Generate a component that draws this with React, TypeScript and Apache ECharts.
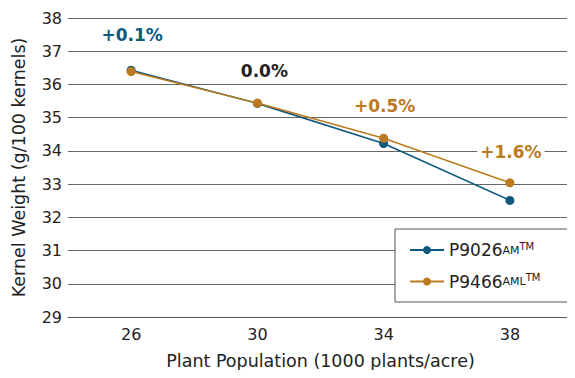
import React, { useEffect, useRef } from "react";
import * as echarts from "echarts";

const categories = ["26", "30", "34", "38"];
const p9026 = [36.43, 35.43, 34.22, 32.51];
const p9466 = [36.39, 35.44, 34.38, 33.04];
const diffLabels = ["+0.1%", "0.0%", "+0.5%", "+1.6%"];
const diffColors = ["#0e5a7f", "#222222", "#bc7a1f", "#bc7a1f"];
const seriesNames = ["P9026", "P9466"];

const BLUE = "#0e5a7f";
const ORANGE = "#bc7a1f";
const FONT = "'DejaVu Sans', 'Noto Sans', sans-serif";

export default function App() {
  const ref = useRef<HTMLDivElement>(null);
  useEffect(() => {
    if (!ref.current) return;
    const chart = echarts.init(ref.current, undefined, { renderer: "svg" });
    const labelDistance = [23, 19, 19, 18];
    chart.setOption({
      animation: false,
      textStyle: { fontFamily: FONT },
      grid: { left: 68, right: 2, top: 18, bottom: 61 },
      xAxis: {
        type: "category",
        data: categories,
        axisTick: { show: false },
        axisLine: { lineStyle: { color: "#555", width: 1 } },
        axisLabel: { color: "#222", fontSize: 16, margin: 9, fontFamily: FONT },
        name: "Plant Population (1000 plants/acre)",
        nameLocation: "middle",
        nameGap: 35,
        nameTextStyle: { color: "#222", fontSize: 17.5, fontFamily: FONT },
      },
      yAxis: {
        type: "value",
        min: 29,
        max: 38,
        interval: 1,
        axisLine: { show: false },
        axisTick: { show: false },
        splitLine: { lineStyle: { color: "#666", width: 1 } },
        axisLabel: { color: "#222", fontSize: 16, margin: 6, fontFamily: FONT },
        name: "Kernel Weight (g/100 kernels)",
        nameLocation: "middle",
        nameGap: 40,
        nameTextStyle: { color: "#222", fontSize: 17.5, fontFamily: FONT },
      },
      legend: {
        orient: "vertical",
        left: 395,
        top: 229,
        width: 167,
        backgroundColor: "#fff",
        borderColor: "#555",
        borderWidth: 1,
        padding: [12, 30, 12, 14],
        itemGap: 14,
        itemWidth: 34,
        itemHeight: 10,
        data: seriesNames,
        formatter: (name: string) =>
          name === "P9026" ? "{a|P9026}{b|AM}{c|TM}" : "{a|P9466}{b|AML}{c|TM}",
        textStyle: {
          color: "#222",
          fontFamily: FONT,
          rich: {
            a: { fontSize: 17, color: "#222", fontFamily: FONT },
            b: { fontSize: 11, color: "#222", fontFamily: FONT },
            c: { fontSize: 10, color: "#222", fontFamily: FONT, verticalAlign: "top", padding: [0, 0, 8, 0] },
          },
        },
      },
      series: [
        {
          name: seriesNames[0],
          type: "line",
          data: p9026,
          color: BLUE,
          symbol: "circle",
          symbolSize: 9,
          lineStyle: { width: 1.6, color: BLUE },
          itemStyle: { color: BLUE },
          z: 2,
        },
        {
          name: seriesNames[1],
          type: "line",
          data: p9466.map((v, i) => ({
            value: v,
            label: {
              show: true,
              position: "top",
              distance: labelDistance[i],
              offset: i === 1 ? [7, 0] : [1, 0],
              formatter: diffLabels[i],
              color: diffColors[i],
              fontSize: 17,
              fontWeight: "bold",
              fontFamily: FONT,
              backgroundColor: "#fff",
              padding: [0, 3],
            },
          })),
          color: ORANGE,
          symbol: "circle",
          symbolSize: 9,
          lineStyle: { width: 1.6, color: ORANGE },
          itemStyle: { color: ORANGE },
          z: 3,
        },
      ],
    });
    return () => chart.dispose();
  }, []);
  return <div ref={ref} style={{ width: 575, height: 378, margin: -8 }} />;
}
